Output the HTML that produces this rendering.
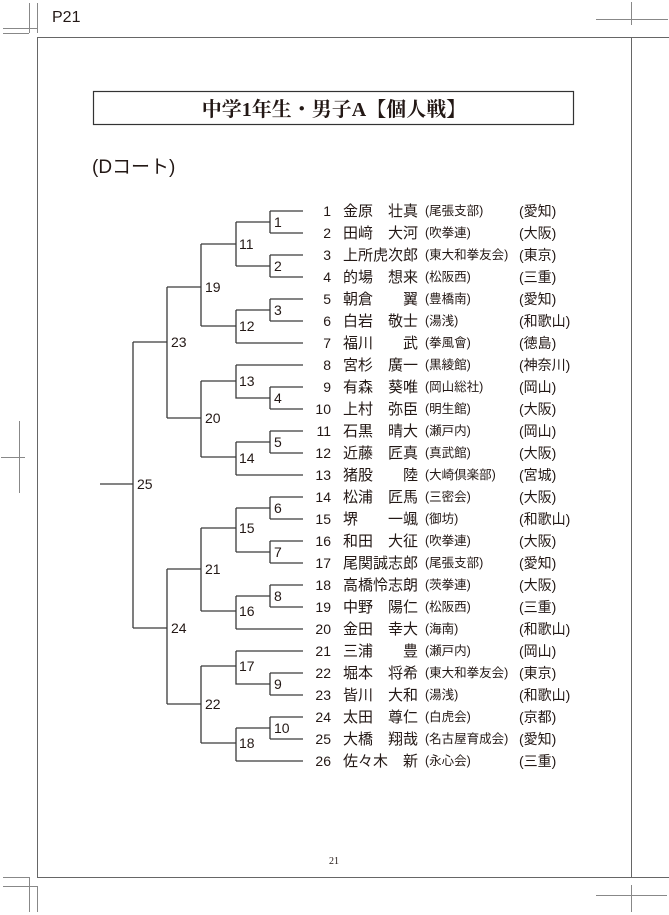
<!DOCTYPE html>
<html><head><meta charset="utf-8"><style>
html,body{margin:0;padding:0;background:#fff;}
svg{display:block;}
.g{font-family:"Liberation Sans","Noto Sans CJK JP",sans-serif;fill:#231815;}
</style></head><body>
<svg width="669" height="915" viewBox="0 0 669 915" xmlns="http://www.w3.org/2000/svg">
<g stroke="#888" stroke-width="1" fill="none">
<line x1="29.5" y1="3" x2="29.5" y2="33"/><line x1="37.5" y1="3" x2="37.5" y2="33"/>
<line x1="3" y1="28.5" x2="37" y2="28.5"/><line x1="3" y1="33.5" x2="29" y2="33.5"/>
<line x1="631.5" y1="2" x2="631.5" y2="25"/><line x1="596" y1="19.5" x2="668" y2="19.5"/>
<line x1="3" y1="877.5" x2="29" y2="877.5"/><line x1="3" y1="886.5" x2="37" y2="886.5"/>
<line x1="29.5" y1="877" x2="29.5" y2="912"/><line x1="37.5" y1="886" x2="37.5" y2="912"/>
<line x1="596" y1="895.5" x2="667" y2="895.5"/><line x1="631.5" y1="885" x2="631.5" y2="912"/>
<line x1="19.5" y1="421" x2="19.5" y2="493"/><line x1="1" y1="457.5" x2="25" y2="457.5"/>
</g>
<g stroke="#666" stroke-width="1" fill="none">
<line x1="37" y1="37.5" x2="669" y2="37.5"/>
<line x1="37.5" y1="37" x2="37.5" y2="877"/>
<line x1="631.5" y1="37" x2="631.5" y2="877"/>
<line x1="37" y1="877.5" x2="669" y2="877.5"/>
</g>
<text x="52" y="22" class="g" font-size="16" fill="#333">P21</text>
<rect x="93.5" y="91.5" width="480" height="33" fill="none" stroke="#333" stroke-width="1.2"/>
<text x="334" y="116" text-anchor="middle" font-family="'Liberation Serif','Noto Serif CJK SC',serif" font-weight="bold" font-size="20" fill="#231815">中学1年生・男子A【個人戦】</text>
<text x="92" y="173" class="g" font-size="19">(Dコート)</text>
<text x="334" y="864" text-anchor="middle" font-family="'Liberation Serif',serif" font-size="10" fill="#231815">21</text>

<g stroke="#3a3a3a" stroke-width="1.3" fill="none">
<path d="M270 211H303M270 233H303M270 255H303M270 277H303M270 299H303M270 321H303M236 343H303M236 365H303M270 387H303M270 409H303M270 431H303M270 453H303M236 475H303M270 497H303M270 519H303M270 541H303M270 563H303M270 585H303M270 607H303M236 629H303M236 651H303M270 673H303M270 695H303M270 717H303M270 739H303M236 761H303"/>
<path d="M270 211V233M270 255V277M270 299V321M270 387V409M270 431V453M270 497V519M270 541V563M270 585V607M270 673V695M270 717V739"/>
<path d="M236 222H270M236 266H270M236 222V266"/>
<path d="M236 310H270M236 310V343"/>
<path d="M236 365V398H270"/>
<path d="M236 442H270M236 442V475"/>
<path d="M236 508H270M236 552H270M236 508V552"/>
<path d="M236 596H270M236 596V629"/>
<path d="M236 651V684H270"/>
<path d="M236 728H270M236 728V761"/>
<path d="M201 244H236M201 326H236M201 244V326"/>
<path d="M201 381H236M201 457H236M201 381V457"/>
<path d="M201 528H236M201 611H236M201 528V611"/>
<path d="M201 666H236M201 743H236M201 666V743"/>
<path d="M167 287H201M167 418H201M167 287V418"/>
<path d="M167 569H201M167 704H201M167 569V704"/>
<path d="M133 342H167M133 628H167M133 342V628M100 484H133"/>
</g>
<g class="g" font-size="14">
<text x="274" y="227">1</text><text x="274" y="271">2</text><text x="274" y="315">3</text><text x="274" y="403">4</text><text x="274" y="447">5</text>
<text x="274" y="513">6</text><text x="274" y="557">7</text><text x="274" y="601">8</text><text x="274" y="689">9</text><text x="274" y="733">10</text>
<text x="239" y="249">11</text><text x="239" y="331">12</text><text x="239" y="386">13</text><text x="239" y="463">14</text>
<text x="239" y="533">15</text><text x="239" y="616">16</text><text x="239" y="671">17</text><text x="239" y="748">18</text>
<text x="205" y="292">19</text><text x="205" y="423">20</text><text x="205" y="574">21</text><text x="205" y="709">22</text>
<text x="171" y="347">23</text><text x="171" y="633">24</text><text x="137" y="489">25</text>
</g>
<g class="g" font-size="15">
<text text-anchor="end" font-size="14"><tspan x="331" y="216">1</tspan><tspan x="331" y="238">2</tspan><tspan x="331" y="260">3</tspan><tspan x="331" y="282">4</tspan><tspan x="331" y="304">5</tspan><tspan x="331" y="326">6</tspan><tspan x="331" y="348">7</tspan><tspan x="331" y="370">8</tspan><tspan x="331" y="392">9</tspan><tspan x="331" y="414">10</tspan><tspan x="331" y="436">11</tspan><tspan x="331" y="458">12</tspan><tspan x="331" y="480">13</tspan><tspan x="331" y="502">14</tspan><tspan x="331" y="524">15</tspan><tspan x="331" y="546">16</tspan><tspan x="331" y="568">17</tspan><tspan x="331" y="590">18</tspan><tspan x="331" y="612">19</tspan><tspan x="331" y="634">20</tspan><tspan x="331" y="656">21</tspan><tspan x="331" y="678">22</tspan><tspan x="331" y="700">23</tspan><tspan x="331" y="722">24</tspan><tspan x="331" y="744">25</tspan><tspan x="331" y="766">26</tspan></text>
<text><tspan x="343" y="216">金原</tspan><tspan x="343" y="238">田﨑</tspan><tspan x="343" y="260">上所</tspan><tspan x="343" y="282">的場</tspan><tspan x="343" y="304">朝倉</tspan><tspan x="343" y="326">白岩</tspan><tspan x="343" y="348">福川</tspan><tspan x="343" y="370">宮杉</tspan><tspan x="343" y="392">有森</tspan><tspan x="343" y="414">上村</tspan><tspan x="343" y="436">石黒</tspan><tspan x="343" y="458">近藤</tspan><tspan x="343" y="480">猪股</tspan><tspan x="343" y="502">松浦</tspan><tspan x="343" y="524">堺</tspan><tspan x="343" y="546">和田</tspan><tspan x="343" y="568">尾関</tspan><tspan x="343" y="590">高橋</tspan><tspan x="343" y="612">中野</tspan><tspan x="343" y="634">金田</tspan><tspan x="343" y="656">三浦</tspan><tspan x="343" y="678">堀本</tspan><tspan x="343" y="700">皆川</tspan><tspan x="343" y="722">太田</tspan><tspan x="343" y="744">大橋</tspan><tspan x="343" y="766">佐々木</tspan></text>
<text text-anchor="end"><tspan x="418" y="216">壮真</tspan><tspan x="418" y="238">大河</tspan><tspan x="418" y="260">虎次郎</tspan><tspan x="418" y="282">想来</tspan><tspan x="418" y="304">翼</tspan><tspan x="418" y="326">敬士</tspan><tspan x="418" y="348">武</tspan><tspan x="418" y="370">廣一</tspan><tspan x="418" y="392">葵唯</tspan><tspan x="418" y="414">弥臣</tspan><tspan x="418" y="436">晴大</tspan><tspan x="418" y="458">匠真</tspan><tspan x="418" y="480">陸</tspan><tspan x="418" y="502">匠馬</tspan><tspan x="418" y="524">一颯</tspan><tspan x="418" y="546">大征</tspan><tspan x="418" y="568">誠志郎</tspan><tspan x="418" y="590">怜志朗</tspan><tspan x="418" y="612">陽仁</tspan><tspan x="418" y="634">幸大</tspan><tspan x="418" y="656">豊</tspan><tspan x="418" y="678">将希</tspan><tspan x="418" y="700">大和</tspan><tspan x="418" y="722">尊仁</tspan><tspan x="418" y="744">翔哉</tspan><tspan x="418" y="766">新</tspan></text>
</g>
<g class="g" font-size="12.5">
<text><tspan x="425" y="215">(尾張支部)</tspan><tspan x="425" y="237">(吹拳連)</tspan><tspan x="425" y="259">(東大和拳友会)</tspan><tspan x="425" y="281">(松阪西)</tspan><tspan x="425" y="303">(豊橋南)</tspan><tspan x="425" y="325">(湯浅)</tspan><tspan x="425" y="347">(拳風會)</tspan><tspan x="425" y="369">(黒綾館)</tspan><tspan x="425" y="391">(岡山総社)</tspan><tspan x="425" y="413">(明生館)</tspan><tspan x="425" y="435">(瀬戸内)</tspan><tspan x="425" y="457">(真武館)</tspan><tspan x="425" y="479">(大崎倶楽部)</tspan><tspan x="425" y="501">(三密会)</tspan><tspan x="425" y="523">(御坊)</tspan><tspan x="425" y="545">(吹拳連)</tspan><tspan x="425" y="567">(尾張支部)</tspan><tspan x="425" y="589">(茨拳連)</tspan><tspan x="425" y="611">(松阪西)</tspan><tspan x="425" y="633">(海南)</tspan><tspan x="425" y="655">(瀬戸内)</tspan><tspan x="425" y="677">(東大和拳友会)</tspan><tspan x="425" y="699">(湯浅)</tspan><tspan x="425" y="721">(白虎会)</tspan><tspan x="425" y="743">(名古屋育成会)</tspan><tspan x="425" y="765">(永心会)</tspan></text>
</g>
<g class="g" font-size="14">
<text><tspan x="519" y="216">(愛知)</tspan><tspan x="519" y="238">(大阪)</tspan><tspan x="519" y="260">(東京)</tspan><tspan x="519" y="282">(三重)</tspan><tspan x="519" y="304">(愛知)</tspan><tspan x="519" y="326">(和歌山)</tspan><tspan x="519" y="348">(徳島)</tspan><tspan x="519" y="370">(神奈川)</tspan><tspan x="519" y="392">(岡山)</tspan><tspan x="519" y="414">(大阪)</tspan><tspan x="519" y="436">(岡山)</tspan><tspan x="519" y="458">(大阪)</tspan><tspan x="519" y="480">(宮城)</tspan><tspan x="519" y="502">(大阪)</tspan><tspan x="519" y="524">(和歌山)</tspan><tspan x="519" y="546">(大阪)</tspan><tspan x="519" y="568">(愛知)</tspan><tspan x="519" y="590">(大阪)</tspan><tspan x="519" y="612">(三重)</tspan><tspan x="519" y="634">(和歌山)</tspan><tspan x="519" y="656">(岡山)</tspan><tspan x="519" y="678">(東京)</tspan><tspan x="519" y="700">(和歌山)</tspan><tspan x="519" y="722">(京都)</tspan><tspan x="519" y="744">(愛知)</tspan><tspan x="519" y="766">(三重)</tspan></text>
</g>
</svg>
</body></html>
